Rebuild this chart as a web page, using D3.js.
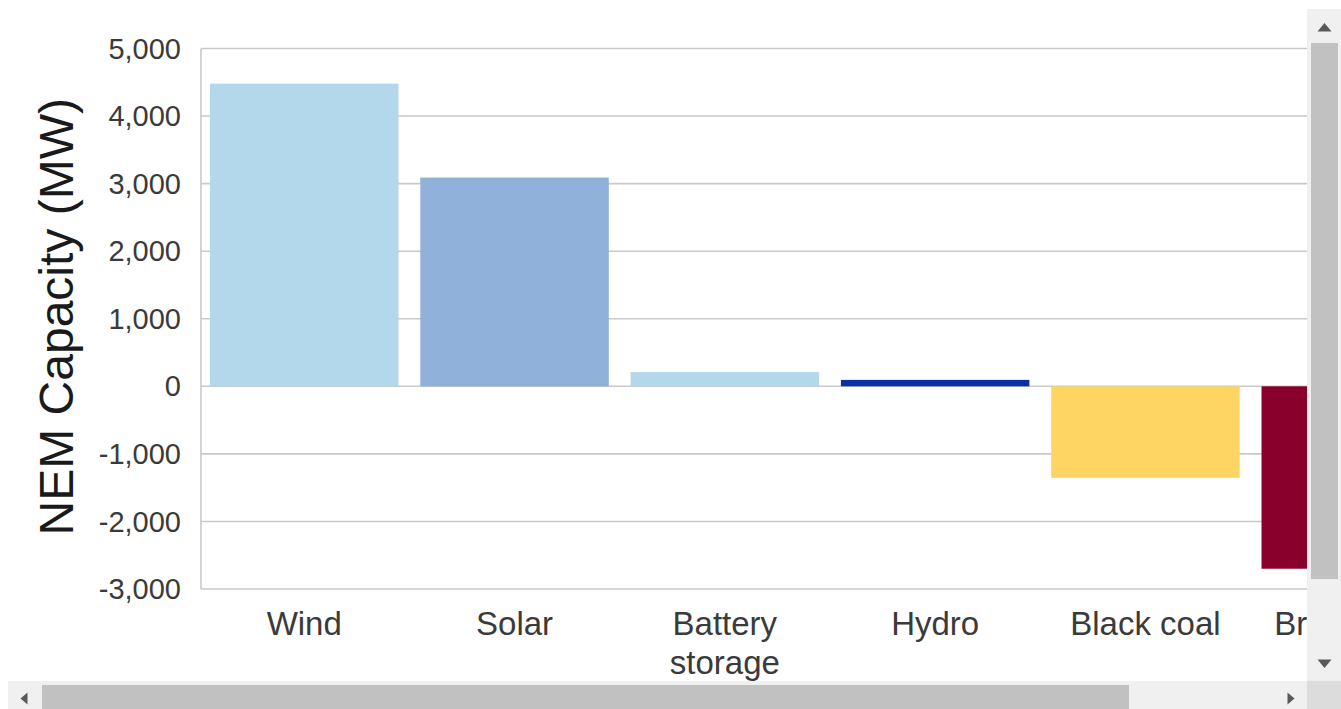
<!DOCTYPE html>
<html>
<head>
<meta charset="utf-8">
<script src="https://cdn.jsdelivr.net/npm/d3@7"></script>
<style>
  html, body { margin: 0; padding: 0; background: #ffffff; }
  svg { display: block; }
  text { font-family: "Liberation Sans", Arial, sans-serif; }
</style>
</head>
<body>
<svg id="chart" width="1341" height="709"></svg>
<script>
// Net change in NEM capacity by fuel type (MW)
const categories = ["Wind", "Solar", "Battery storage", "Hydro", "Black coal", "Brown coal"];
const capacityChange = [4480, 3090, 210, 95, -1355, -2700];
const barColors = ["#b3d8eb", "#8fb1da", "#b3d8eb", "#0a31a3", "#fed563", "#8a002c"];
const yTicks = [5000, 4000, 3000, 2000, 1000, 0, -1000, -2000, -3000];

const W = 1341, H = 709;
const view = { x0: 8, y0: 9, x1: 1307, y1: 681 };   // visible scroll viewport
const plot = { left: 201, top: 48.5, bottom: 589, right: 1459 };

const svg = d3.select("#chart");

svg.append("defs").append("clipPath").attr("id", "viewport")
  .append("rect")
  .attr("x", view.x0).attr("y", view.y0)
  .attr("width", view.x1 - view.x0).attr("height", view.y1 - view.y0);

const g = svg.append("g").attr("clip-path", "url(#viewport)");

const y = d3.scaleLinear().domain([-3000, 5000]).range([plot.bottom, plot.top]);
const x = d3.scaleBand()
  .domain(categories)
  .range([plot.left, plot.right])
  .paddingInner(0.1037)
  .paddingOuter(0.0428);

// horizontal gridlines
g.append("g").selectAll("line").data(yTicks).join("line")
  .attr("x1", plot.left).attr("x2", plot.right)
  .attr("y1", d => y(d)).attr("y2", d => y(d))
  .attr("stroke", "#c9c9c9").attr("stroke-width", 1.6);

// left axis line
g.append("line")
  .attr("x1", plot.left).attr("x2", plot.left)
  .attr("y1", y(5000)).attr("y2", y(-3000))
  .attr("stroke", "#c9c9c9").attr("stroke-width", 1.6);

// bars
g.append("g").selectAll("rect").data(categories).join("rect")
  .attr("x", d => x(d))
  .attr("width", x.bandwidth())
  .attr("y", (d, i) => y(Math.max(0, capacityChange[i])))
  .attr("height", (d, i) => Math.abs(y(capacityChange[i]) - y(0)))
  .attr("fill", (d, i) => barColors[i]);

// y axis tick labels (plain hyphen for negatives)
const fmt = d3.formatLocale({ decimal: ".", thousands: ",", grouping: [3], currency: ["", ""], minus: "-" }).format(",");
g.append("g").selectAll("text").data(yTicks).join("text")
  .attr("x", 181).attr("y", d => y(d))
  .attr("dy", "0.35em")
  .attr("text-anchor", "end")
  .attr("font-size", 29)
  .attr("fill", "#3a3a3a")
  .text(d => fmt(d));

// category labels (wrapped onto two lines where needed)
const cat = g.append("g").selectAll("text").data(categories).join("text")
  .attr("x", d => x(d) + x.bandwidth() / 2)
  .attr("y", 635)
  .attr("text-anchor", "middle")
  .attr("font-size", 33)
  .attr("fill", "#3a3a3a");
cat.each(function(d) {
  const words = d === "Battery storage" ? ["Battery", "storage"] : [d];
  const t = d3.select(this);
  words.forEach((w, i) => {
    t.append("tspan")
      .attr("x", x(d) + x.bandwidth() / 2)
      .attr("dy", i === 0 ? 0 : 39)
      .text(w);
  });
});

// y axis title
g.append("text")
  .attr("transform", `translate(73,${(plot.top + plot.bottom) / 2 - 2}) rotate(-90)`)
  .attr("text-anchor", "middle")
  .attr("font-size", 48)
  .attr("fill", "#1a1a1a")
  .text("NEM Capacity (MW)");

// scrollbars around the viewport
const sb = svg.append("g");
// vertical
sb.append("rect").attr("x", view.x1).attr("y", view.y0)
  .attr("width", W - view.x1).attr("height", view.y1 - view.y0).attr("fill", "#f0f0f0");
sb.append("rect").attr("x", 1311).attr("y", 43)
  .attr("width", 27).attr("height", 536).attr("fill", "#c1c1c1");
// horizontal
sb.append("rect").attr("x", view.x0).attr("y", view.y1)
  .attr("width", view.x1 - view.x0).attr("height", H - view.y1).attr("fill", "#f0f0f0");
sb.append("rect").attr("x", 42).attr("y", 685)
  .attr("width", 1087).attr("height", H - 685).attr("fill", "#c1c1c1");
// corner
sb.append("rect").attr("x", view.x1).attr("y", view.y1)
  .attr("width", W - view.x1).attr("height", H - view.y1).attr("fill", "#dcdcdc");
// arrow glyphs
const arrows = [
  "M1317.5,31.5 L1331.5,31.5 L1324.5,23 Z",
  "M1317.5,659.5 L1331.5,659.5 L1324.5,668 Z",
  "M27.5,692.5 L27.5,704.5 L20.5,698.5 Z",
  "M1287.5,692.5 L1287.5,704.5 L1294.5,698.5 Z"
];
sb.selectAll("path.arrow").data(arrows).join("path")
  .attr("class", "arrow")
  .attr("d", d => d)
  .attr("fill", "#595959");
</script>
</body>
</html>
